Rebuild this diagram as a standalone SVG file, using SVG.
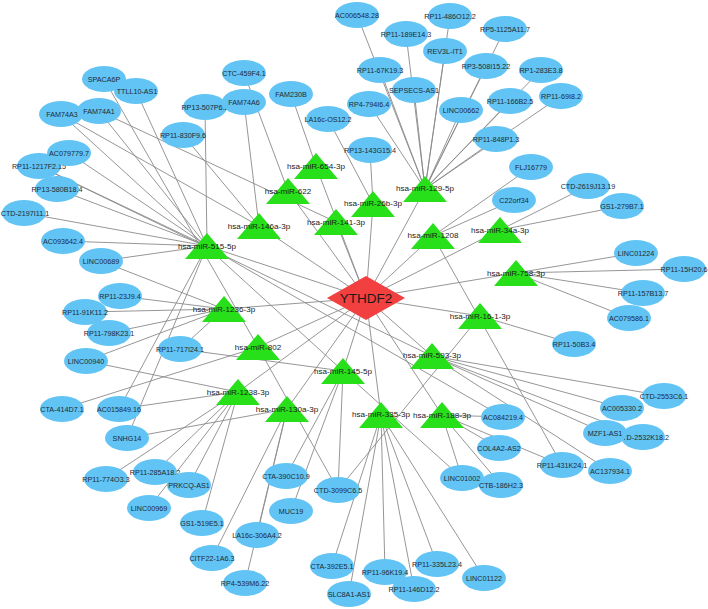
<svg xmlns="http://www.w3.org/2000/svg" xmlns:xlink="http://www.w3.org/1999/xlink" width="708" height="609" viewBox="0 0 708 609">
<style>
.bg{fill:#ffffff}
.e line{stroke:#8a8a8a;stroke-width:0.9}
.l ellipse{fill:#62c4f4}
.l text{font-family:"Liberation Sans",Arial,sans-serif;font-size:7.2px;fill:#1e2a36;text-anchor:middle}
.m polygon{fill:#27e01a}
.m text{font-family:"Liberation Sans",Arial,sans-serif;font-size:8.1px;fill:#1a1a1a;text-anchor:middle}
.g polygon{fill:#f23f3f}
.g text{font-family:"Liberation Sans",Arial,sans-serif;font-size:13.5px;fill:#1a1a1a;text-anchor:middle}
</style>
<rect class="bg" x="0" y="0" width="708" height="609"/>
<g id="connectors" class="e">
<line x1="366" y1="298" x2="207" y2="246"/><line x1="366" y1="298" x2="316" y2="166"/><line x1="366" y1="298" x2="288" y2="191"/><line x1="366" y1="298" x2="259" y2="226"/><line x1="366" y1="298" x2="336" y2="222"/><line x1="366" y1="298" x2="373" y2="204"/><line x1="366" y1="298" x2="425" y2="189"/><line x1="366" y1="298" x2="433" y2="236"/><line x1="366" y1="298" x2="500" y2="230"/><line x1="366" y1="298" x2="516" y2="273"/><line x1="366" y1="298" x2="480" y2="316"/><line x1="366" y1="298" x2="432" y2="356"/><line x1="366" y1="298" x2="442" y2="415"/><line x1="366" y1="298" x2="381" y2="415"/><line x1="366" y1="298" x2="343" y2="371"/><line x1="366" y1="298" x2="287" y2="409"/><line x1="366" y1="298" x2="238" y2="392"/><line x1="366" y1="298" x2="258" y2="347"/><line x1="366" y1="298" x2="224" y2="309"/>
<line x1="207" y1="246" x2="136" y2="91"/><line x1="207" y1="246" x2="99" y2="111"/><line x1="207" y1="246" x2="69" y2="153"/><line x1="207" y1="246" x2="39" y2="166"/><line x1="207" y1="246" x2="57" y2="189"/><line x1="207" y1="246" x2="24" y2="213"/><line x1="207" y1="246" x2="63" y2="241"/><line x1="207" y1="246" x2="101" y2="261"/><line x1="207" y1="246" x2="205" y2="107"/><line x1="207" y1="246" x2="119" y2="409"/><line x1="207" y1="246" x2="127" y2="438"/><line x1="207" y1="246" x2="503" y2="417"/>
<line x1="258" y1="347" x2="104" y2="79"/><line x1="258" y1="347" x2="62" y2="409"/><line x1="258" y1="347" x2="338" y2="490"/>
<line x1="259" y1="226" x2="61" y2="114"/><line x1="259" y1="226" x2="244" y2="102"/><line x1="259" y1="226" x2="183" y2="135"/>
<line x1="343" y1="371" x2="61" y2="114"/><line x1="343" y1="371" x2="286" y2="476"/><line x1="343" y1="371" x2="291" y2="511"/><line x1="343" y1="371" x2="338" y2="490"/><line x1="343" y1="371" x2="180" y2="349"/><line x1="343" y1="371" x2="462" y2="478"/>
<line x1="288" y1="191" x2="244" y2="73"/><line x1="336" y1="222" x2="99" y2="111"/><line x1="316" y1="166" x2="291" y2="94"/>
<line x1="373" y1="204" x2="328" y2="119"/><line x1="373" y1="204" x2="370" y2="150"/>
<line x1="425" y1="189" x2="357" y2="15"/><line x1="425" y1="189" x2="406" y2="34"/><line x1="425" y1="189" x2="450" y2="16"/><line x1="425" y1="189" x2="445" y2="51"/><line x1="425" y1="189" x2="505" y2="29"/><line x1="425" y1="189" x2="486" y2="66"/><line x1="425" y1="189" x2="380" y2="70"/><line x1="425" y1="189" x2="414" y2="90"/><line x1="425" y1="189" x2="369" y2="104"/><line x1="425" y1="189" x2="461" y2="110"/><line x1="425" y1="189" x2="541" y2="70"/><line x1="425" y1="189" x2="510" y2="101"/><line x1="425" y1="189" x2="561" y2="96"/><line x1="425" y1="189" x2="496" y2="139"/>
<line x1="433" y1="236" x2="531" y2="167"/><line x1="433" y1="236" x2="514" y2="200"/><line x1="433" y1="236" x2="562" y2="465"/>
<line x1="500" y1="230" x2="588" y2="186"/><line x1="500" y1="230" x2="622" y2="206"/>
<line x1="516" y1="273" x2="636" y2="253"/><line x1="516" y1="273" x2="684" y2="269"/><line x1="516" y1="273" x2="643" y2="293"/><line x1="516" y1="273" x2="629" y2="318"/>
<line x1="480" y1="316" x2="574" y2="344"/><line x1="480" y1="316" x2="338" y2="490"/>
<line x1="432" y1="356" x2="664" y2="396"/><line x1="432" y1="356" x2="622" y2="408"/><line x1="432" y1="356" x2="605" y2="433"/><line x1="432" y1="356" x2="643" y2="437"/><line x1="432" y1="356" x2="610" y2="471"/><line x1="432" y1="356" x2="39" y2="166"/>
<line x1="442" y1="415" x2="503" y2="417"/><line x1="442" y1="415" x2="499" y2="448"/><line x1="442" y1="415" x2="501" y2="485"/><line x1="442" y1="415" x2="462" y2="478"/><line x1="442" y1="415" x2="562" y2="465"/>
<line x1="381" y1="415" x2="332" y2="566"/><line x1="381" y1="415" x2="349" y2="594"/><line x1="381" y1="415" x2="385" y2="572"/><line x1="381" y1="415" x2="414" y2="589"/><line x1="381" y1="415" x2="437" y2="564"/><line x1="381" y1="415" x2="484" y2="578"/>
<line x1="287" y1="409" x2="212" y2="558"/><line x1="287" y1="409" x2="245" y2="583"/><line x1="287" y1="409" x2="257" y2="535"/><line x1="287" y1="409" x2="127" y2="438"/>
<line x1="238" y1="392" x2="106" y2="479"/><line x1="238" y1="392" x2="155" y2="472"/><line x1="238" y1="392" x2="189" y2="485"/><line x1="238" y1="392" x2="149" y2="508"/><line x1="238" y1="392" x2="202" y2="523"/><line x1="238" y1="392" x2="86" y2="361"/><line x1="238" y1="392" x2="119" y2="409"/>
<line x1="224" y1="309" x2="101" y2="261"/><line x1="224" y1="309" x2="120" y2="296"/><line x1="224" y1="309" x2="85" y2="312"/><line x1="224" y1="309" x2="109" y2="333"/><line x1="224" y1="309" x2="180" y2="349"/><line x1="224" y1="309" x2="86" y2="361"/>
</g>
<g id="lncrna" class="l">
<g id="n-TTLL10-AS1"><ellipse cx="136" cy="91" rx="22" ry="13"/><text x="137" y="93.5">TTLL10-AS1</text></g>
<g id="n-SPACA6P"><ellipse cx="104" cy="79" rx="22" ry="13"/><text x="104" y="81.5">SPACA6P</text></g>
<g id="n-FAM74A3"><ellipse cx="61" cy="114" rx="22" ry="13"/><text x="62" y="116.5">FAM74A3</text></g>
<g id="n-FAM74A1"><ellipse cx="99" cy="111" rx="22" ry="13"/><text x="99" y="113.5">FAM74A1</text></g>
<g id="n-RP11-1217F2.15"><ellipse cx="39" cy="166" rx="22" ry="13"/><text x="39" y="168.5">RP11-1217F2.15</text></g>
<g id="n-AC079779.7"><ellipse cx="69" cy="153" rx="22" ry="13"/><text x="69" y="155.5">AC079779.7</text></g>
<g id="n-RP13-580B18.4"><ellipse cx="57" cy="189" rx="22" ry="13"/><text x="57" y="191.5">RP13-580B18.4</text></g>
<g id="n-CTD-2197I11.1"><ellipse cx="24" cy="213" rx="22" ry="13"/><text x="25" y="215.5">CTD-2197I11.1</text></g>
<g id="n-AC093642.4"><ellipse cx="63" cy="241" rx="22" ry="13"/><text x="63" y="243.5">AC093642.4</text></g>
<g id="n-LINC00689"><ellipse cx="101" cy="261" rx="22" ry="13"/><text x="101" y="263.5">LINC00689</text></g>
<g id="n-RP11-23J9.4"><ellipse cx="120" cy="296" rx="22" ry="13"/><text x="120" y="298.5">RP11-23J9.4</text></g>
<g id="n-RP11-91K11.2"><ellipse cx="85" cy="312" rx="22" ry="13"/><text x="85" y="314.5">RP11-91K11.2</text></g>
<g id="n-RP11-798K23.1"><ellipse cx="109" cy="333" rx="22" ry="13"/><text x="109" y="335.5">RP11-798K23.1</text></g>
<g id="n-RP11-717I24.1"><ellipse cx="180" cy="349" rx="22" ry="13"/><text x="180" y="351.5">RP11-717I24.1</text></g>
<g id="n-LINC00940"><ellipse cx="86" cy="361" rx="22" ry="13"/><text x="86" y="363.5">LINC00940</text></g>
<g id="n-CTA-414D7.1"><ellipse cx="62" cy="409" rx="22" ry="13"/><text x="62" y="411.5">CTA-414D7.1</text></g>
<g id="n-AC015849.16"><ellipse cx="119" cy="409" rx="22" ry="13"/><text x="119" y="411.5">AC015849.16</text></g>
<g id="n-SNHG14"><ellipse cx="127" cy="438" rx="22" ry="13"/><text x="127" y="440.5">SNHG14</text></g>
<g id="n-RP11-774O3.3"><ellipse cx="106" cy="479" rx="22" ry="13"/><text x="106" y="481.5">RP11-774O3.3</text></g>
<g id="n-RP11-285A18.2"><ellipse cx="155" cy="472" rx="22" ry="13"/><text x="155" y="474.5">RP11-285A18.2</text></g>
<g id="n-PRKCQ-AS1"><ellipse cx="189" cy="485" rx="22" ry="13"/><text x="189" y="487.5">PRKCQ-AS1</text></g>
<g id="n-LINC00969"><ellipse cx="149" cy="508" rx="22" ry="13"/><text x="149" y="510.5">LINC00969</text></g>
<g id="n-GS1-519E5.1"><ellipse cx="202" cy="523" rx="22" ry="13"/><text x="202" y="525.5">GS1-519E5.1</text></g>
<g id="n-CITF22-1A6.3"><ellipse cx="212" cy="558" rx="22" ry="13"/><text x="212" y="560.5">CITF22-1A6.3</text></g>
<g id="n-RP4-539M6.22"><ellipse cx="245" cy="583" rx="22" ry="13"/><text x="245" y="585.5">RP4-539M6.22</text></g>
<g id="n-LA16c-306A4.2"><ellipse cx="257" cy="535" rx="22" ry="13"/><text x="257" y="537.5">LA16c-306A4.2</text></g>
<g id="n-CTA-390C10.9"><ellipse cx="286" cy="476" rx="22" ry="13"/><text x="286" y="478.5">CTA-390C10.9</text></g>
<g id="n-MUC19"><ellipse cx="291" cy="511" rx="22" ry="13"/><text x="291" y="513.5">MUC19</text></g>
<g id="n-CTD-3099C6.5"><ellipse cx="338" cy="490" rx="22" ry="13"/><text x="338" y="492.5">CTD-3099C6.5</text></g>
<g id="n-CTA-392E5.1"><ellipse cx="332" cy="566" rx="22" ry="13"/><text x="332" y="568.5">CTA-392E5.1</text></g>
<g id="n-SLC8A1-AS1"><ellipse cx="349" cy="594" rx="22" ry="13"/><text x="349" y="596.5">SLC8A1-AS1</text></g>
<g id="n-RP11-96K19.4"><ellipse cx="385" cy="572" rx="22" ry="13"/><text x="385" y="574.5">RP11-96K19.4</text></g>
<g id="n-RP11-146D12.2"><ellipse cx="414" cy="589" rx="22" ry="13"/><text x="414" y="591.5">RP11-146D12.2</text></g>
<g id="n-RP11-335L23.4"><ellipse cx="437" cy="564" rx="22" ry="13"/><text x="437" y="566.5">RP11-335L23.4</text></g>
<g id="n-LINC01122"><ellipse cx="484" cy="578" rx="22" ry="13"/><text x="484" y="580.5">LINC01122</text></g>
<g id="n-LINC01002"><ellipse cx="462" cy="478" rx="22" ry="13"/><text x="462" y="480.5">LINC01002</text></g>
<g id="n-CTB-186H2.3"><ellipse cx="501" cy="485" rx="22" ry="13"/><text x="501" y="487.5">CTB-186H2.3</text></g>
<g id="n-COL4A2-AS2"><ellipse cx="499" cy="448" rx="22" ry="13"/><text x="499" y="450.5">COL4A2-AS2</text></g>
<g id="n-AC084219.4"><ellipse cx="503" cy="417" rx="22" ry="13"/><text x="503" y="419.5">AC084219.4</text></g>
<g id="n-RP11-431K24.1"><ellipse cx="562" cy="465" rx="22" ry="13"/><text x="562" y="467.5">RP11-431K24.1</text></g>
<g id="n-AC137934.1"><ellipse cx="610" cy="471" rx="22" ry="13"/><text x="610" y="473.5">AC137934.1</text></g>
<g id="n-CTD-2532K18.2"><ellipse cx="643" cy="437" rx="22" ry="13"/><text x="643" y="439.5">CTD-2532K18.2</text></g>
<g id="n-MZF1-AS1"><ellipse cx="605" cy="433" rx="22" ry="13"/><text x="605" y="435.5">MZF1-AS1</text></g>
<g id="n-AC005330.2"><ellipse cx="622" cy="408" rx="22" ry="13"/><text x="622" y="410.5">AC005330.2</text></g>
<g id="n-CTD-2553C6.1"><ellipse cx="664" cy="396" rx="22" ry="13"/><text x="664" y="398.5">CTD-2553C6.1</text></g>
<g id="n-RP11-50B3.4"><ellipse cx="574" cy="344" rx="22" ry="13"/><text x="574" y="346.5">RP11-50B3.4</text></g>
<g id="n-AC079586.1"><ellipse cx="629" cy="318" rx="22" ry="13"/><text x="629" y="320.5">AC079586.1</text></g>
<g id="n-RP11-157B13.7"><ellipse cx="643" cy="293" rx="22" ry="13"/><text x="643" y="295.5">RP11-157B13.7</text></g>
<g id="n-RP11-15H20.6"><ellipse cx="684" cy="269" rx="22" ry="13"/><text x="684" y="271.5">RP11-15H20.6</text></g>
<g id="n-LINC01224"><ellipse cx="636" cy="253" rx="22" ry="13"/><text x="636" y="255.5">LINC01224</text></g>
<g id="n-GS1-279B7.1"><ellipse cx="622" cy="206" rx="22" ry="13"/><text x="622" y="208.5">GS1-279B7.1</text></g>
<g id="n-CTD-2619J13.19"><ellipse cx="588" cy="186" rx="22" ry="13"/><text x="588" y="188.5">CTD-2619J13.19</text></g>
<g id="n-C22orf34"><ellipse cx="514" cy="200" rx="22" ry="13"/><text x="514" y="202.5">C22orf34</text></g>
<g id="n-FLJ16779"><ellipse cx="531" cy="167" rx="22" ry="13"/><text x="531" y="169.5">FLJ16779</text></g>
<g id="n-RP11-848P1.3"><ellipse cx="496" cy="139" rx="22" ry="13"/><text x="496" y="141.5">RP11-848P1.3</text></g>
<g id="n-RP11-69I8.2"><ellipse cx="561" cy="96" rx="22" ry="13"/><text x="561" y="98.5">RP11-69I8.2</text></g>
<g id="n-RP11-166B2.5"><ellipse cx="510" cy="101" rx="22" ry="13"/><text x="510" y="103.5">RP11-166B2.5</text></g>
<g id="n-RP1-283E3.8"><ellipse cx="541" cy="70" rx="22" ry="13"/><text x="541" y="72.5">RP1-283E3.8</text></g>
<g id="n-LINC00662"><ellipse cx="461" cy="110" rx="22" ry="13"/><text x="461" y="112.5">LINC00662</text></g>
<g id="n-RP3-508I15.22"><ellipse cx="486" cy="66" rx="22" ry="13"/><text x="486" y="68.5">RP3-508I15.22</text></g>
<g id="n-RP5-1125A11.7"><ellipse cx="505" cy="29" rx="22" ry="13"/><text x="505" y="31.5">RP5-1125A11.7</text></g>
<g id="n-RP11-486O12.2"><ellipse cx="450" cy="16" rx="22" ry="13"/><text x="450" y="18.5">RP11-486O12.2</text></g>
<g id="n-REV3L-IT1"><ellipse cx="445" cy="51" rx="22" ry="13"/><text x="445" y="53.5">REV3L-IT1</text></g>
<g id="n-RP11-189E14.3"><ellipse cx="406" cy="34" rx="22" ry="13"/><text x="406" y="36.5">RP11-189E14.3</text></g>
<g id="n-AC006548.28"><ellipse cx="357" cy="15" rx="22" ry="13"/><text x="357" y="17.5">AC006548.28</text></g>
<g id="n-RP11-67K19.3"><ellipse cx="380" cy="70" rx="22" ry="13"/><text x="380" y="72.5">RP11-67K19.3</text></g>
<g id="n-SEPSECS-AS1"><ellipse cx="414" cy="90" rx="22" ry="13"/><text x="414" y="92.5">SEPSECS-AS1</text></g>
<g id="n-RP4-794I6.4"><ellipse cx="369" cy="104" rx="22" ry="13"/><text x="369" y="106.5">RP4-794I6.4</text></g>
<g id="n-LA16c-OS12.2"><ellipse cx="328" cy="119" rx="22" ry="13"/><text x="328" y="121.5">LA16c-OS12.2</text></g>
<g id="n-RP13-143G15.4"><ellipse cx="370" cy="150" rx="22" ry="13"/><text x="370" y="152.5">RP13-143G15.4</text></g>
<g id="n-FAM230B"><ellipse cx="291" cy="94" rx="22" ry="13"/><text x="291" y="96.5">FAM230B</text></g>
<g id="n-CTC-459F4.1"><ellipse cx="244" cy="73" rx="22" ry="13"/><text x="244" y="75.5">CTC-459F4.1</text></g>
<g id="n-RP13-507P6.2"><ellipse cx="205" cy="107" rx="22" ry="13"/><text x="205" y="109.5">RP13-507P6.2</text></g>
<g id="n-FAM74A6"><ellipse cx="244" cy="102" rx="22" ry="13"/><text x="244" y="104.5">FAM74A6</text></g>
<g id="n-RP11-830F9.6"><ellipse cx="183" cy="135" rx="22" ry="13"/><text x="183" y="137.5">RP11-830F9.6</text></g>
</g>
<g id="mirna" class="m">
<g id="m-515-5p"><polygon points="185,259 229,259 207,233"/><text x="207" y="249">hsa-miR-515-5p</text></g>
<g id="m-654-3p"><polygon points="294,179 338,179 316,153"/><text x="316" y="169">hsa-miR-654-3p</text></g>
<g id="m-622"><polygon points="266,204 310,204 288,178"/><text x="288" y="194">hsa-miR-622</text></g>
<g id="m-146a-3p"><polygon points="237,239 281,239 259,213"/><text x="259" y="229">hsa-miR-146a-3p</text></g>
<g id="m-141-3p"><polygon points="314,235 358,235 336,209"/><text x="336" y="225">hsa-miR-141-3p</text></g>
<g id="m-26b-3p"><polygon points="351,217 395,217 373,191"/><text x="373" y="206">hsa-miR-26b-3p</text></g>
<g id="m-129-5p"><polygon points="403,202 447,202 425,176"/><text x="425" y="191">hsa-miR-129-5p</text></g>
<g id="m-1208"><polygon points="411,249 455,249 433,223"/><text x="433" y="238">hsa-miR-1208</text></g>
<g id="m-34a-3p"><polygon points="478,243 522,243 500,217"/><text x="500" y="233">hsa-miR-34a-3p</text></g>
<g id="m-758-3p"><polygon points="494,286 538,286 516,260"/><text x="516" y="276">hsa-miR-758-3p</text></g>
<g id="m-16-1-3p"><polygon points="458,329 502,329 480,303"/><text x="480" y="319">hsa-miR-16-1-3p</text></g>
<g id="m-593-3p"><polygon points="410,369 454,369 432,343"/><text x="432" y="358">hsa-miR-593-3p</text></g>
<g id="m-188-3p"><polygon points="420,428 464,428 442,402"/><text x="442" y="418">hsa-miR-188-3p</text></g>
<g id="m-335-3p"><polygon points="359,428 403,428 381,402"/><text x="381" y="417">hsa-miR-335-3p</text></g>
<g id="m-145-5p"><polygon points="321,384 365,384 343,358"/><text x="343" y="374">hsa-miR-145-5p</text></g>
<g id="m-130a-3p"><polygon points="265,422 309,422 287,396"/><text x="287" y="412">hsa-miR-130a-3p</text></g>
<g id="m-1238-3p"><polygon points="216,405 260,405 238,379"/><text x="238" y="395">hsa-miR-1238-3p</text></g>
<g id="m-802"><polygon points="236,360 280,360 258,334"/><text x="258" y="350">hsa-miR-802</text></g>
<g id="m-1236-3p"><polygon points="202,322 246,322 224,296"/><text x="224" y="312">hsa-miR-1236-3p</text></g>
</g>
<g id="gene" class="g">
<g id="n-YTHDF2"><polygon points="327,298 366,276 405,298 366,320"/><text x="366" y="303">YTHDF2</text></g>
</g>
</svg>
